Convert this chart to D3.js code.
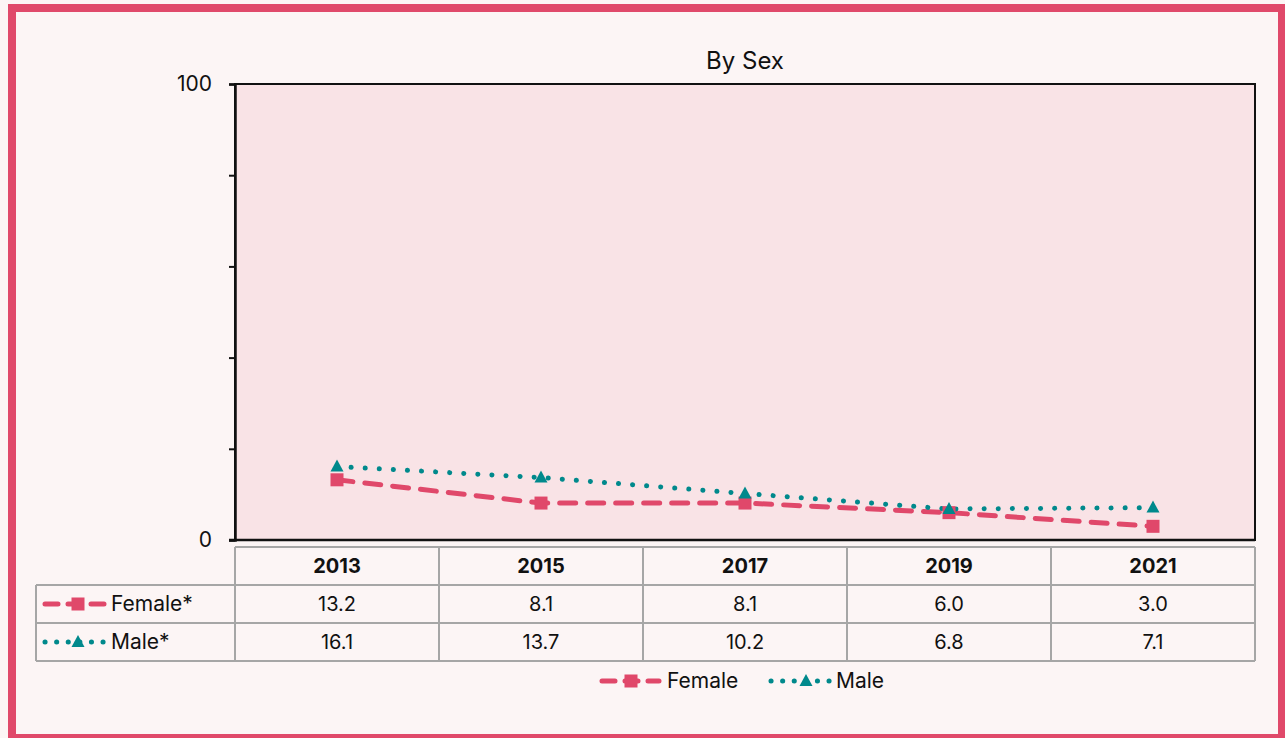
<!DOCTYPE html>
<html>
<head>
<meta charset="utf-8">
<script src="https://cdn.jsdelivr.net/npm/d3@7"></script>
<style>
  html, body { margin: 0; padding: 0; background: #fcf5f5; }
  svg { display: block; font-family: Inter, "Open Sans", sans-serif; }
</style>
</head>
<body>
<svg class="chart" width="1285" height="738"></svg>
<script>
// Chart data
const years = ["2013", "2015", "2017", "2019", "2021"];
const femaleValues = [13.2, 8.1, 8.1, 6.0, 3.0];
const maleValues = [16.1, 13.7, 10.2, 6.8, 7.1];
const yTicks = [0, 20, 40, 60, 80, 100];

const series = [
  { name: "Female", label: "Female*", values: femaleValues, color: "#e0486a", marker: "square" },
  { name: "Male", label: "Male*", values: maleValues, color: "#00898c", marker: "triangle" },
];

const svg = d3.select(".chart");
const plot = { left: 235, right: 1255, top: 84, bottom: 540 };
const FONT = "Inter, 'Open Sans', sans-serif";

// Outer frame
svg.append("rect")
  .attr("x", 12).attr("y", 8)
  .attr("width", 1270).attr("height", 730)
  .attr("fill", "#fcf5f5")
  .attr("stroke", "#e0496a")
  .attr("stroke-width", 8);

const x = d3.scaleBand().domain(years).range([plot.left, plot.right]).padding(0);
const y = d3.scaleLinear().domain([0, 100]).range([plot.bottom, plot.top]);
const cx = (yr) => x(yr) + x.bandwidth() / 2;

// Plot background
svg.append("rect")
  .attr("x", plot.left).attr("y", plot.top)
  .attr("width", plot.right - plot.left).attr("height", plot.bottom - plot.top)
  .attr("fill", "#f9e3e6")
  .attr("stroke", "#111")
  .attr("stroke-width", 2);

// Title
svg.append("text")
  .attr("x", (plot.left + plot.right) / 2).attr("y", 69)
  .attr("text-anchor", "middle")
  .attr("font-size", 24)
  .attr("fill", "#111")
  .text("By Sex");

// Y axis
const yAxis = svg.append("g")
  .attr("transform", `translate(${plot.left},0)`)
  .call(d3.axisLeft(y)
    .tickValues(yTicks)
    .tickSize(6)
    .tickPadding(17)
    .tickFormat((d) => (d === 0 || d === 100 ? d : "")));
yAxis.select(".domain").attr("stroke", "#111").attr("stroke-width", 2.5);
yAxis.selectAll(".tick line").attr("stroke", "#111").attr("stroke-width", 2);
yAxis.selectAll(".tick text")
  .attr("font-size", 21)
  .attr("font-family", FONT)
  .attr("fill", "#111");

// Bottom axis line
svg.append("line")
  .attr("x1", plot.left - 6).attr("x2", plot.right)
  .attr("y1", plot.bottom).attr("y2", plot.bottom)
  .attr("stroke", "#111").attr("stroke-width", 2.5);

// Line styles
const lineStyle = {
  Female: { dash: "16 12", width: 5 },
  Male: { dash: "0.1 14", width: 5 },
};

function drawMarker(g, type, px, py, color) {
  if (type === "square") {
    g.append("rect")
      .attr("x", px - 6.5).attr("y", py - 6.5)
      .attr("width", 13).attr("height", 13)
      .attr("fill", color);
  } else {
    g.append("path")
      .attr("d", `M${px},${py - 7}L${px + 6.5},${py + 5}L${px - 6.5},${py + 5}Z`)
      .attr("fill", color);
  }
}

const line = d3.line()
  .x((d) => cx(d.year))
  .y((d) => y(d.value));

const marks = svg.append("g");
series.forEach((s) => {
  const pts = years.map((yr, i) => ({ year: yr, value: s.values[i] }));
  marks.append("path")
    .datum(pts)
    .attr("d", line)
    .attr("fill", "none")
    .attr("stroke", s.color)
    .attr("stroke-width", lineStyle[s.name].width)
    .attr("stroke-linecap", "round")
    .attr("stroke-dasharray", lineStyle[s.name].dash);
});
series.forEach((s) => {
  years.forEach((yr, i) => drawMarker(marks, s.marker, cx(yr), y(s.values[i]), s.color));
});

// Legend key (line + marker)
function legendKey(g, s, x0, x1, yy, mx) {
  g.append("line")
    .attr("x1", x0).attr("x2", x1)
    .attr("y1", yy).attr("y2", yy)
    .attr("stroke", s.color)
    .attr("stroke-width", 5)
    .attr("stroke-linecap", "round")
    .attr("stroke-dasharray", s.name === "Female" ? "13 10" : "0.1 11.5");
  drawMarker(g, s.marker, mx, yy, s.color);
}

// Data table
const table = svg.append("g");
const rowTop = 547, rowH = 38, tableLeft = 36;
const gridColor = "#a6a6a6";

table.append("line")
  .attr("x1", plot.left).attr("x2", plot.right)
  .attr("y1", rowTop).attr("y2", rowTop)
  .attr("stroke", gridColor).attr("stroke-width", 2);
[1, 2, 3].forEach((r) => {
  table.append("line")
    .attr("x1", tableLeft).attr("x2", plot.right)
    .attr("y1", rowTop + r * rowH).attr("y2", rowTop + r * rowH)
    .attr("stroke", gridColor).attr("stroke-width", 2);
});
table.append("line")
  .attr("x1", tableLeft).attr("x2", tableLeft)
  .attr("y1", rowTop + rowH).attr("y2", rowTop + 3 * rowH)
  .attr("stroke", gridColor).attr("stroke-width", 2);
years.concat(["end"]).forEach((yr) => {
  const xx = yr === "end" ? plot.right : x(yr);
  table.append("line")
    .attr("x1", xx).attr("x2", xx)
    .attr("y1", rowTop).attr("y2", rowTop + 3 * rowH)
    .attr("stroke", gridColor).attr("stroke-width", 2);
});

table.selectAll(".hdr")
  .data(years)
  .join("text")
  .attr("x", (d) => cx(d))
  .attr("y", rowTop + rowH / 2 + 7)
  .attr("text-anchor", "middle")
  .attr("font-size", 20)
  .attr("font-weight", "bold")
  .attr("fill", "#111")
  .text((d) => d);

series.forEach((s, r) => {
  const yy = rowTop + (r + 1) * rowH + rowH / 2;
  legendKey(table, s, 45, 105, yy, 78);
  table.append("text")
    .attr("x", 111).attr("y", yy + 7)
    .attr("font-size", 21)
    .attr("fill", "#111")
    .text(s.label);
  s.values.forEach((v, i) => {
    table.append("text")
      .attr("x", cx(years[i])).attr("y", yy + 7)
      .attr("text-anchor", "middle")
      .attr("font-size", 20)
      .attr("fill", "#111")
      .text(v.toFixed(1));
  });
});

// Bottom legend
const legend = svg.append("g");
const legendPos = [
  { key: [602, 659, 631], text: 667 },
  { key: [771, 831, 806], text: 836 },
];
series.forEach((s, i) => {
  const p = legendPos[i];
  legendKey(legend, s, p.key[0], p.key[1], 681, p.key[2]);
  legend.append("text")
    .attr("x", p.text).attr("y", 688)
    .attr("font-size", 21)
    .attr("fill", "#111")
    .text(s.name);
});
</script>
</body>
</html>
